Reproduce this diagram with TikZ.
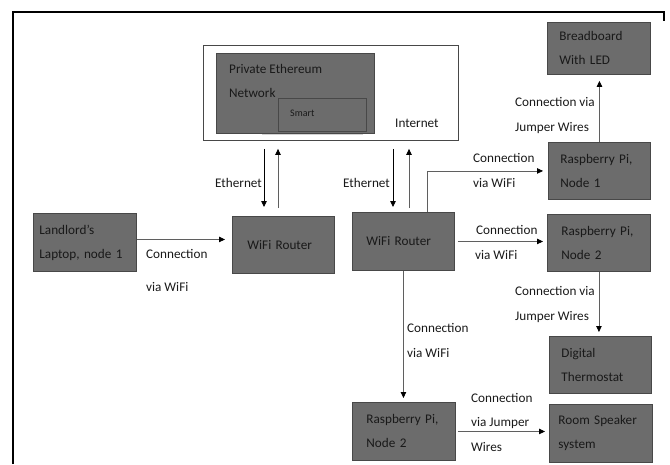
\documentclass[tikz,border=0pt]{standalone}
\usepackage{fontspec}
\setmainfont{Carlito}
\usetikzlibrary{arrows.meta}
\definecolor{boxfill}{RGB}{108,108,108}
\definecolor{boxline}{RGB}{72,72,72}
\definecolor{linegray}{RGB}{95,95,95}
\definecolor{txt}{RGB}{25,25,25}
\tikzset{
  dbox/.style={draw=boxline, fill=boxfill, line width=0.9pt, anchor=north west,
    align=left, inner ysep=0pt, text=txt, font=\fontsize{13.2}{24}\selectfont},
  lbl/.style={anchor=base west, inner sep=0pt, text=txt, font=\fontsize{13.2}{16}\selectfont},
  arr/.style={draw=linegray, line width=0.8pt, -{Triangle[length=6pt,width=5.5pt,color=black]}},
  darr/.style={draw=black, line width=0.8pt, -{Triangle[length=6pt,width=5.5pt,color=black]}}
}
\begin{document}
\begin{tikzpicture}[x=1pt,y=-1pt]
\useasboundingbox (0,0) rectangle (670,464);
% outer frame
\draw[line width=1.6pt] (13,464) -- (13,12) -- (664,12) -- (664,21);
% blockchain container
\node[draw=boxline, fill=white, line width=0.9pt, anchor=north west, minimum width=255pt, minimum height=95pt, inner sep=0pt] (cont) at (203,45) {};
\node[draw=boxline, fill=boxfill, line width=0.9pt, anchor=north west, minimum width=158pt, minimum height=80pt, inner sep=0pt] (peth) at (216,53) {};
\draw[gray!35, line width=0.8pt] (262,134) -- (363,134);
\node[draw=boxline, fill=boxfill, line width=0.9pt, anchor=north west, minimum width=88pt, minimum height=33pt, inner sep=0pt] (smart) at (278,98) {};
\node[anchor=west, align=left, inner sep=0pt, text=txt, font=\fontsize{13.2}{24}\selectfont] (pethtxt) at (229,81) {Private Ethereum\\Network};
\node[anchor=base west, inner sep=0pt, text=txt, font=\fontsize{10}{12}\selectfont] (smarttxt) at (290,116.5) {Smart};
\node[lbl] (internet) at (395,127.5) {Internet};
% boxes
\node[dbox, minimum width=103pt, minimum height=58pt, text width=91pt, inner xsep=6pt] (laptop) at (33,213) {Landlord’s\\Laptop, node 1};
\node[dbox, minimum width=102pt, minimum height=57pt, text width=72pt, inner xsep=15pt] (routerL) at (232,216) {WiFi Router};
\node[dbox, minimum width=102pt, minimum height=58pt, text width=74pt, inner xsep=14pt] (routerR) at (352,212) {WiFi Router};
\node[dbox, minimum width=103pt, minimum height=52pt, text width=79pt, inner xsep=12pt] (bread) at (547,22) {Breadboard\\With LED};
\node[dbox, minimum width=102pt, minimum height=57pt, text width=78pt, inner xsep=12pt] (rpi1) at (548,142) {Raspberry Pi,\\Node 1};
\node[dbox, minimum width=103pt, minimum height=57pt, text width=75pt, inner xsep=14pt] (rpi2) at (547,214) {Raspberry Pi,\\Node 2};
\node[dbox, minimum width=102pt, minimum height=57pt, text width=78pt, inner xsep=12pt] (thermo) at (549,336) {Digital\\Thermostat};
\node[dbox, minimum width=103pt, minimum height=58pt, text width=75pt, inner xsep=14pt] (rpi3) at (352,402) {Raspberry Pi,\\Node 2};
\node[dbox, minimum width=103pt, minimum height=58pt, text width=85pt, inner xsep=9pt] (speaker) at (549,404) {Room Speaker\\system};
% helper x positions
\coordinate (xa) at (264,0);
\coordinate (xb) at (278,0);
\coordinate (xc) at (393,0);
\coordinate (xd) at (409,0);
\coordinate (xe) at (427,0);
% connectors
\draw[arr, shorten >=7pt] ([yshift=3pt]laptop.east) -- ([yshift=3pt]laptop.east -| routerL.west);
\draw[darr, shorten <=8pt, shorten >=9pt] (cont.south -| xa) -- (routerL.north -| xa);
\draw[arr, shorten <=8pt, shorten >=8pt] (routerL.north -| xb) -- (cont.south -| xb);
\draw[darr, shorten <=8pt, shorten >=5pt] (cont.south -| xc) -- (routerR.north -| xc);
\draw[arr, shorten <=4pt, shorten >=8pt] (routerR.north -| xd) -- (cont.south -| xd);
\draw[arr, shorten >=5pt] (routerR.north -| xe) |- (rpi1.west);
\draw[arr, shorten <=3pt, shorten >=4pt] (routerR.east) -- (routerR.east -| rpi2.west);
\draw[arr, shorten >=6pt] (rpi1.north) -- (rpi1.north |- bread.south);
\draw[arr, shorten >=4pt] (rpi2.south) -- (rpi2.south |- thermo.north);
\draw[arr, shorten >=4pt] (routerR.south) -- (routerR.south |- rpi3.north);
\draw[arr, shorten <=2pt, shorten >=4pt] (rpi3.east) -- (rpi3.east -| speaker.west);
% labels
\node[lbl] (eth1) at (215,187.5) {Ethernet};
\node[lbl] (eth2) at (343,187.5) {Ethernet};
\node[lbl] (c1a) at (146,258.5) {Connection};
\node[lbl] (c1b) at (146,291.5) {via WiFi};
\node[lbl] (c2a) at (473,162.5) {Connection};
\node[lbl] (c2b) at (473,187.5) {via WiFi};
\node[lbl] (c3a) at (476,234.5) {Connection};
\node[lbl] (c3b) at (475,259.5) {via WiFi};
\node[lbl] (c4a) at (515,106.5) {Connection via};
\node[lbl] (c4b) at (515,131.5) {Jumper Wires};
\node[lbl] (c5a) at (515,295.5) {Connection via};
\node[lbl] (c5b) at (515,320.5) {Jumper Wires};
\node[lbl] (c6a) at (407,332.5) {Connection};
\node[lbl] (c6b) at (407,357.5) {via WiFi};
\node[lbl] (c7a) at (471,402.5) {Connection};
\node[lbl] (c7b) at (471,426.5) {via Jumper};
\node[lbl] (c7c) at (471,451.5) {Wires};
\end{tikzpicture}
\end{document}
